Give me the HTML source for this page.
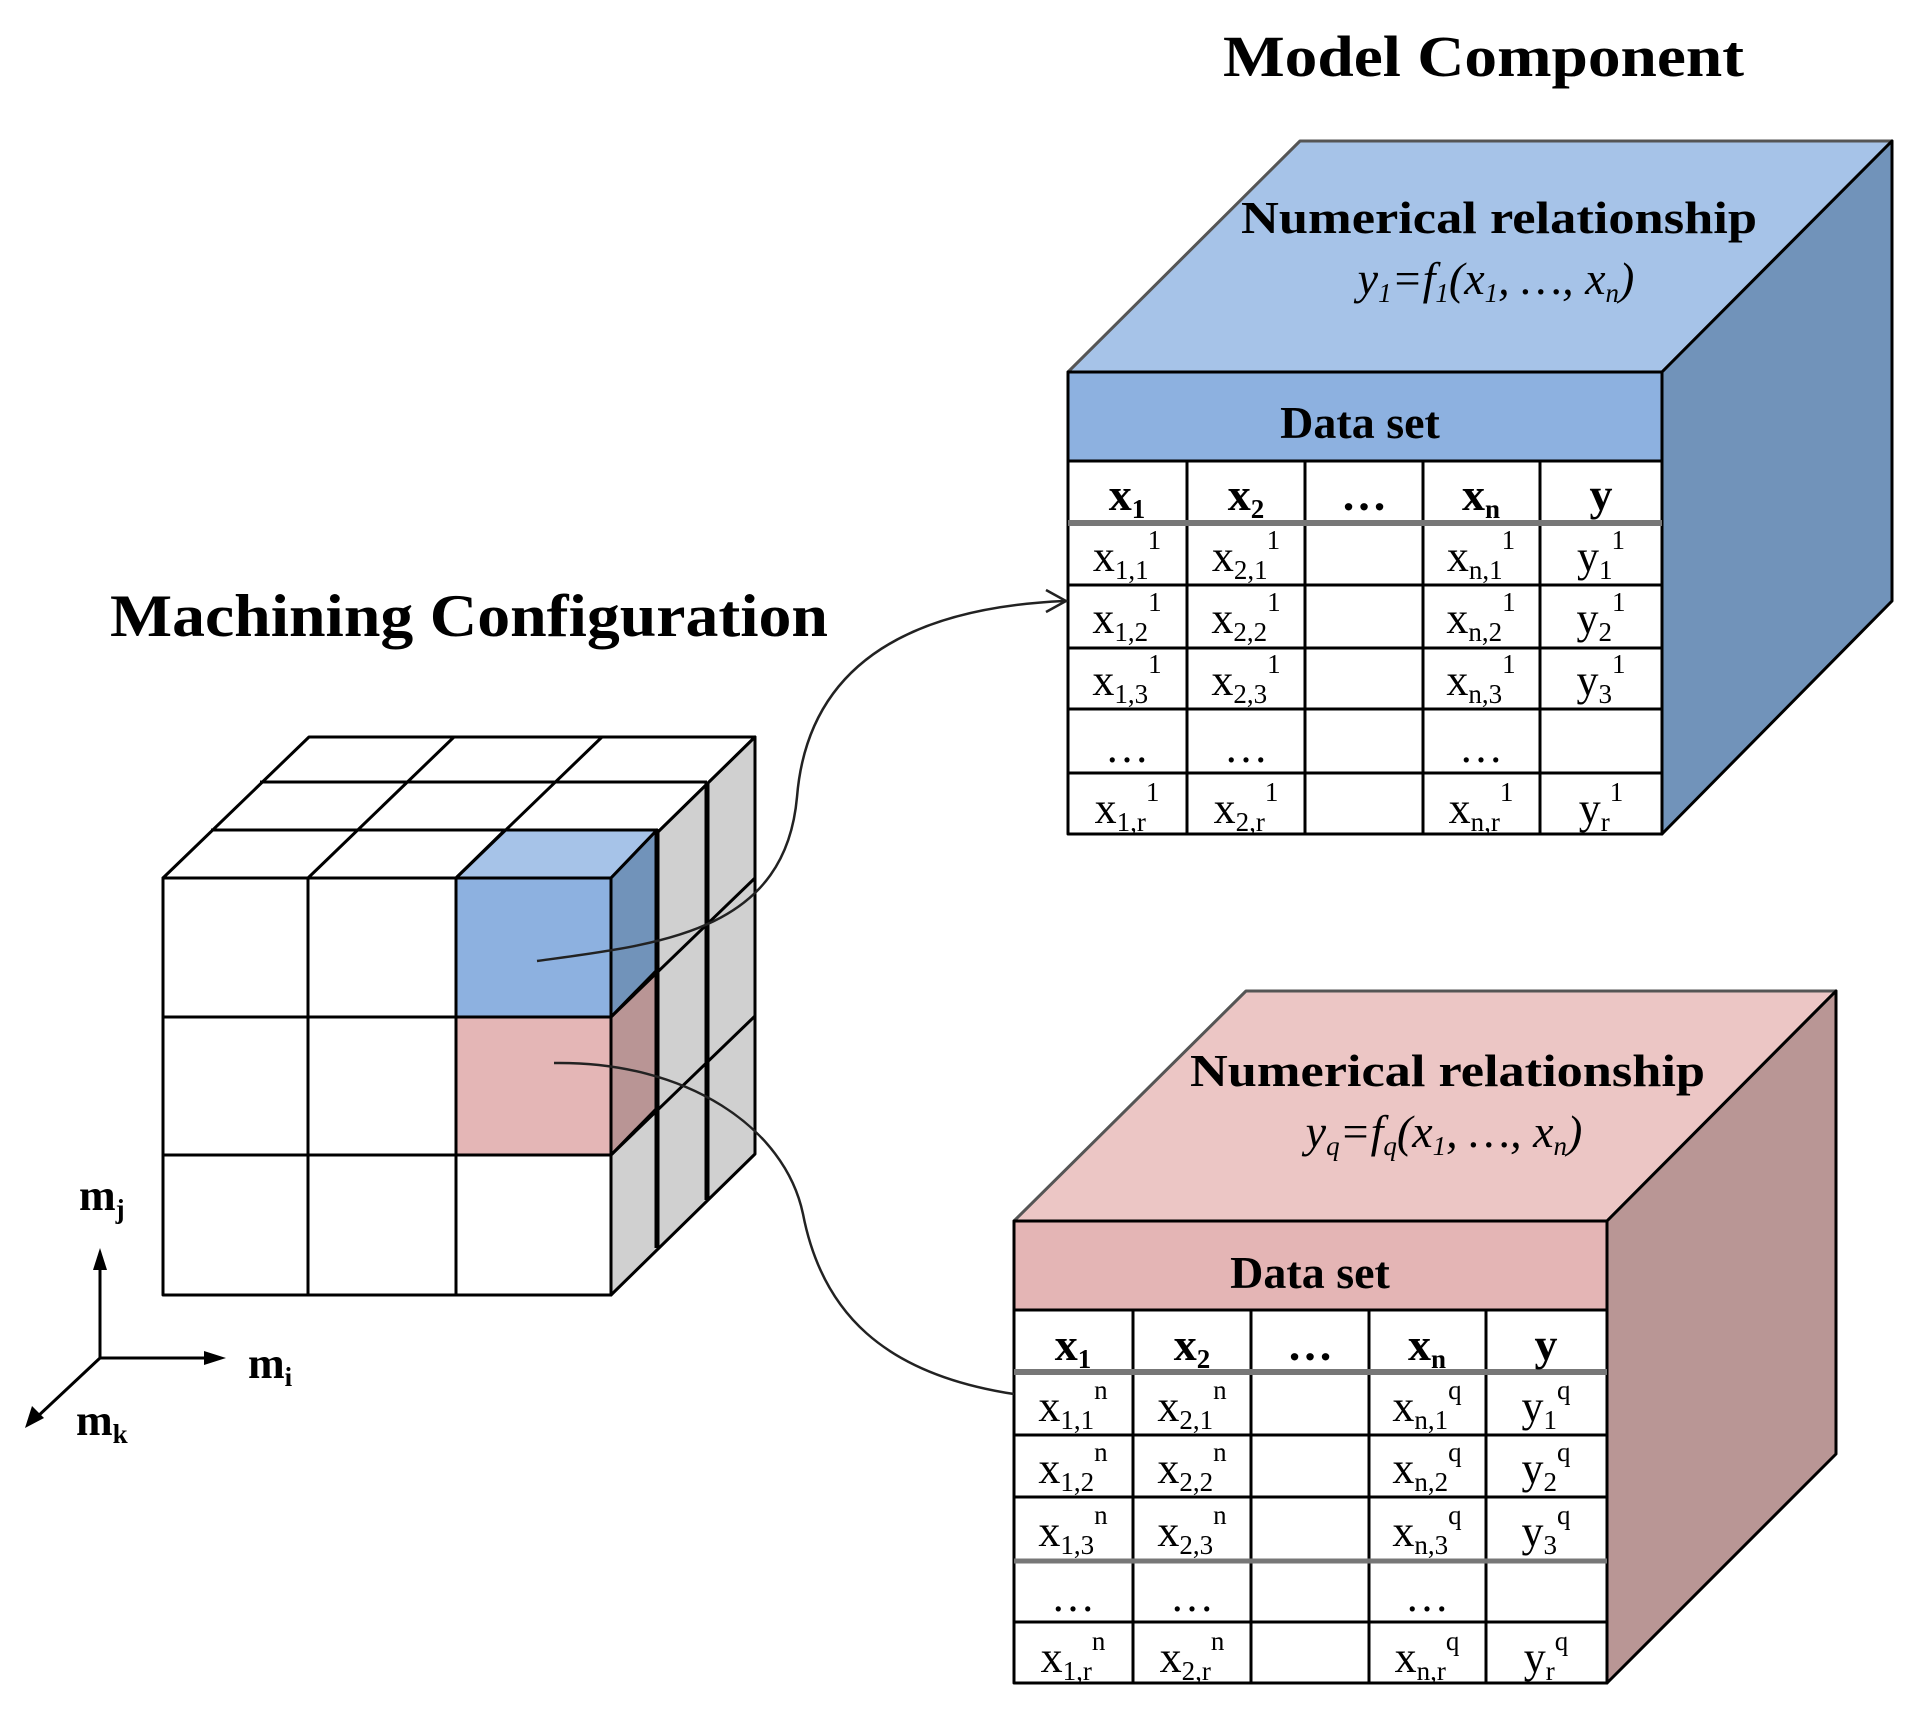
<!DOCTYPE html>
<html><head><meta charset="utf-8"><style>
html,body{margin:0;padding:0;background:#fff}
svg{display:block}
text{font-family:"Liberation Serif",serif;fill:#000}
.t{font-weight:bold}
.c{font-size:44px}
.h{font-size:46px;font-weight:bold}
.s{font-size:27px}
</style></head><body>
<svg width="1923" height="1709" viewBox="0 0 1923 1709" xmlns="http://www.w3.org/2000/svg">
<!-- titles -->
<text class="t" x="1223" y="76" font-size="58" textLength="521" lengthAdjust="spacingAndGlyphs">Model Component</text>
<text class="t" x="110" y="636" font-size="60" textLength="718" lengthAdjust="spacingAndGlyphs">Machining Configuration</text>

<!-- ===== left cube ===== -->
<g stroke="#000" stroke-width="3" stroke-linejoin="round">
<!-- top face -->
<polygon points="163,878 309,737 755,737 611,878" fill="#fff"/>
<polygon points="456,878 505,830 657,830 611,878" fill="#a6c3e8"/>
<!-- right faces -->
<polygon points="611,878 755,737 755,1154 611,1295" fill="#d0d0d0"/>
<polygon points="611,878 657,830 657,970 611,1017" fill="#7193ba"/>
<polygon points="611,1017 657,970 657,1108 611,1155" fill="#b99595"/>
<!-- front -->
<rect x="163" y="878" width="448" height="417" fill="#fff"/>
<rect x="456" y="878" width="155" height="139" fill="#8db1e0"/>
<rect x="456" y="1017" width="155" height="138" fill="#e4b6b6"/>
<g fill="none">
<line x1="308" y1="878" x2="308" y2="1295"/>
<line x1="456" y1="878" x2="456" y2="1295"/>
<line x1="163" y1="1017" x2="611" y2="1017"/>
<line x1="163" y1="1155" x2="611" y2="1155"/>
<!-- top grid -->
<line x1="211" y1="830" x2="657" y2="830"/>
<line x1="260" y1="782" x2="707" y2="782"/>
<line x1="308" y1="878" x2="454" y2="737"/>
<line x1="456" y1="878" x2="602" y2="737"/>
<!-- right grid -->
<line x1="657" y1="830" x2="657" y2="1248" stroke-width="5"/>
<line x1="707" y1="782" x2="707" y2="1200" stroke-width="5"/>
<line x1="611" y1="1017" x2="755" y2="878"/>
<line x1="611" y1="1155" x2="755" y2="1016"/>
</g>
</g>

<!-- axes -->
<g stroke="#000" stroke-width="3" fill="none">
<line x1="100" y1="1358" x2="100" y2="1262"/>
<line x1="100" y1="1358" x2="210" y2="1358"/>
<line x1="100" y1="1358" x2="36" y2="1418"/>
</g>
<polygon points="100,1248 93,1270 107,1270" fill="#000"/>
<polygon points="226,1358 204,1351 204,1365" fill="#000"/>
<polygon points="25,1428 32,1406 44,1418" fill="#000"/>
<text class="t" x="79" y="1210" font-size="44">m<tspan class="s" dy="8">j</tspan></text>
<text class="t" x="248" y="1378" font-size="44">m<tspan class="s" dy="8">i</tspan></text>
<text class="t" x="76" y="1435" font-size="44">m<tspan class="s" dy="8">k</tspan></text>

<!-- ===== blue model cube ===== -->
<g stroke="#000" stroke-width="3" stroke-linejoin="round">
<polygon points="1068,372 1300,141 1892,141 1662,372" fill="#a6c3e8" stroke="#555"/>
<polygon points="1662,372 1892,141 1892,601 1662,834" fill="#7193ba"/>
<rect x="1068" y="372" width="594" height="89" fill="#8db1e0"/>
<rect x="1068" y="461" width="594" height="373" fill="#fff"/>
<g fill="none">
<line x1="1187" y1="461" x2="1187" y2="834"/>
<line x1="1305" y1="461" x2="1305" y2="834"/>
<line x1="1423" y1="461" x2="1423" y2="834"/>
<line x1="1540" y1="461" x2="1540" y2="834"/>
<line x1="1068" y1="523" x2="1662" y2="523" stroke="#777" stroke-width="6"/>
<line x1="1068" y1="585" x2="1662" y2="585"/>
<line x1="1068" y1="648" x2="1662" y2="648"/>
<line x1="1068" y1="709" x2="1662" y2="709"/>
<line x1="1068" y1="773" x2="1662" y2="773"/>
</g>
</g>
<text class="t" x="1241" y="233" font-size="46" textLength="516" lengthAdjust="spacingAndGlyphs">Numerical relationship</text>
<text x="1496" y="294" font-size="46" font-style="italic" text-anchor="middle">y<tspan class="s" dy="8">1</tspan><tspan dy="-8">=f</tspan><tspan class="s" dy="8">1</tspan><tspan dy="-8">(x</tspan><tspan class="s" dy="8">1</tspan><tspan dy="-8">, …, x</tspan><tspan class="s" dy="8">n</tspan><tspan dy="-8">)</tspan></text>
<text class="t" x="1360" y="438" font-size="46" text-anchor="middle">Data set</text>
<g text-anchor="middle">
<text class="h" x="1127" y="510">x<tspan class="s" dy="8">1</tspan></text>
<text class="h" x="1246" y="510">x<tspan class="s" dy="8">2</tspan></text>
<text class="h" x="1364" y="510">…</text>
<text class="h" x="1481" y="510">x<tspan class="s" dy="8">n</tspan></text>
<text class="h" x="1601" y="510">y</text>
<text class="c" x="1127" y="571">x<tspan class="s" dy="8">1,1</tspan><tspan class="s" dy="-30">1</tspan></text>
<text class="c" x="1246" y="571">x<tspan class="s" dy="8">2,1</tspan><tspan class="s" dy="-30">1</tspan></text>
<text class="c" x="1481" y="571">x<tspan class="s" dy="8">n,1</tspan><tspan class="s" dy="-30">1</tspan></text>
<text class="c" x="1601" y="571">y<tspan class="s" dy="8">1</tspan><tspan class="s" dy="-30">1</tspan></text>
<text class="c" x="1127" y="633">x<tspan class="s" dy="8">1,2</tspan><tspan class="s" dy="-30">1</tspan></text>
<text class="c" x="1246" y="633">x<tspan class="s" dy="8">2,2</tspan><tspan class="s" dy="-30">1</tspan></text>
<text class="c" x="1481" y="633">x<tspan class="s" dy="8">n,2</tspan><tspan class="s" dy="-30">1</tspan></text>
<text class="c" x="1601" y="633">y<tspan class="s" dy="8">2</tspan><tspan class="s" dy="-30">1</tspan></text>
<text class="c" x="1127" y="695">x<tspan class="s" dy="8">1,3</tspan><tspan class="s" dy="-30">1</tspan></text>
<text class="c" x="1246" y="695">x<tspan class="s" dy="8">2,3</tspan><tspan class="s" dy="-30">1</tspan></text>
<text class="c" x="1481" y="695">x<tspan class="s" dy="8">n,3</tspan><tspan class="s" dy="-30">1</tspan></text>
<text class="c" x="1601" y="695">y<tspan class="s" dy="8">3</tspan><tspan class="s" dy="-30">1</tspan></text>
<text class="c" x="1127" y="762">…</text>
<text class="c" x="1246" y="762">…</text>
<text class="c" x="1481" y="762">…</text>
<text class="c" x="1127" y="823">x<tspan class="s" dy="8">1,r</tspan><tspan class="s" dy="-30">1</tspan></text>
<text class="c" x="1246" y="823">x<tspan class="s" dy="8">2,r</tspan><tspan class="s" dy="-30">1</tspan></text>
<text class="c" x="1481" y="823">x<tspan class="s" dy="8">n,r</tspan><tspan class="s" dy="-30">1</tspan></text>
<text class="c" x="1601" y="823">y<tspan class="s" dy="8">r</tspan><tspan class="s" dy="-30">1</tspan></text>
</g>

<!-- ===== pink model cube ===== -->
<g stroke="#000" stroke-width="3" stroke-linejoin="round">
<polygon points="1014,1221 1246,991 1836,991 1607,1221" fill="#ecc6c5" stroke="#555"/>
<polygon points="1607,1221 1836,991 1836,1454 1607,1683" fill="#b99695"/>
<rect x="1014" y="1221" width="593" height="89" fill="#e4b5b5"/>
<rect x="1014" y="1310" width="593" height="373" fill="#fff"/>
<g fill="none">
<line x1="1133" y1="1310" x2="1133" y2="1683"/>
<line x1="1251" y1="1310" x2="1251" y2="1683"/>
<line x1="1369" y1="1310" x2="1369" y2="1683"/>
<line x1="1486" y1="1310" x2="1486" y2="1683"/>
<line x1="1014" y1="1372" x2="1607" y2="1372" stroke="#777" stroke-width="6"/>
<line x1="1014" y1="1435" x2="1607" y2="1435"/>
<line x1="1014" y1="1497" x2="1607" y2="1497"/>
<line x1="1014" y1="1561" x2="1607" y2="1561" stroke="#777" stroke-width="5"/>
<line x1="1014" y1="1622" x2="1607" y2="1622"/>
</g>
</g>
<text class="t" x="1190" y="1086" font-size="46" textLength="515" lengthAdjust="spacingAndGlyphs">Numerical relationship</text>
<text x="1444" y="1147" font-size="46" font-style="italic" text-anchor="middle">y<tspan class="s" dy="8">q</tspan><tspan dy="-8">=f</tspan><tspan class="s" dy="8">q</tspan><tspan dy="-8">(x</tspan><tspan class="s" dy="8">1</tspan><tspan dy="-8">, …, x</tspan><tspan class="s" dy="8">n</tspan><tspan dy="-8">)</tspan></text>
<text class="t" x="1310" y="1288" font-size="46" text-anchor="middle">Data set</text>
<g text-anchor="middle">
<text class="h" x="1073" y="1360">x<tspan class="s" dy="8">1</tspan></text>
<text class="h" x="1192" y="1360">x<tspan class="s" dy="8">2</tspan></text>
<text class="h" x="1310" y="1360">…</text>
<text class="h" x="1427" y="1360">x<tspan class="s" dy="8">n</tspan></text>
<text class="h" x="1546" y="1360">y</text>
<text class="c" x="1073" y="1421">x<tspan class="s" dy="8">1,1</tspan><tspan class="s" dy="-30">n</tspan></text>
<text class="c" x="1192" y="1421">x<tspan class="s" dy="8">2,1</tspan><tspan class="s" dy="-30">n</tspan></text>
<text class="c" x="1427" y="1421">x<tspan class="s" dy="8">n,1</tspan><tspan class="s" dy="-30">q</tspan></text>
<text class="c" x="1546" y="1421">y<tspan class="s" dy="8">1</tspan><tspan class="s" dy="-30">q</tspan></text>
<text class="c" x="1073" y="1483">x<tspan class="s" dy="8">1,2</tspan><tspan class="s" dy="-30">n</tspan></text>
<text class="c" x="1192" y="1483">x<tspan class="s" dy="8">2,2</tspan><tspan class="s" dy="-30">n</tspan></text>
<text class="c" x="1427" y="1483">x<tspan class="s" dy="8">n,2</tspan><tspan class="s" dy="-30">q</tspan></text>
<text class="c" x="1546" y="1483">y<tspan class="s" dy="8">2</tspan><tspan class="s" dy="-30">q</tspan></text>
<text class="c" x="1073" y="1546">x<tspan class="s" dy="8">1,3</tspan><tspan class="s" dy="-30">n</tspan></text>
<text class="c" x="1192" y="1546">x<tspan class="s" dy="8">2,3</tspan><tspan class="s" dy="-30">n</tspan></text>
<text class="c" x="1427" y="1546">x<tspan class="s" dy="8">n,3</tspan><tspan class="s" dy="-30">q</tspan></text>
<text class="c" x="1546" y="1546">y<tspan class="s" dy="8">3</tspan><tspan class="s" dy="-30">q</tspan></text>
<text class="c" x="1073" y="1611">…</text>
<text class="c" x="1192" y="1611">…</text>
<text class="c" x="1427" y="1611">…</text>
<text class="c" x="1073" y="1672">x<tspan class="s" dy="8">1,r</tspan><tspan class="s" dy="-30">n</tspan></text>
<text class="c" x="1192" y="1672">x<tspan class="s" dy="8">2,r</tspan><tspan class="s" dy="-30">n</tspan></text>
<text class="c" x="1427" y="1672">x<tspan class="s" dy="8">n,r</tspan><tspan class="s" dy="-30">q</tspan></text>
<text class="c" x="1546" y="1672">y<tspan class="s" dy="8">r</tspan><tspan class="s" dy="-30">q</tspan></text>
</g>

<!-- connectors -->
<g fill="none" stroke="#222" stroke-width="2.5">
<path d="M537,961 C662,944 785,932 797,797 C809,650 932,607 1064,601"/>
<path d="M1046,590 L1066,601 L1046,612"/>
<path d="M554,1063 C687,1061 785,1128 803,1214 C822,1312 883,1374 1014,1394"/>
</g>
</svg>
</body></html>
